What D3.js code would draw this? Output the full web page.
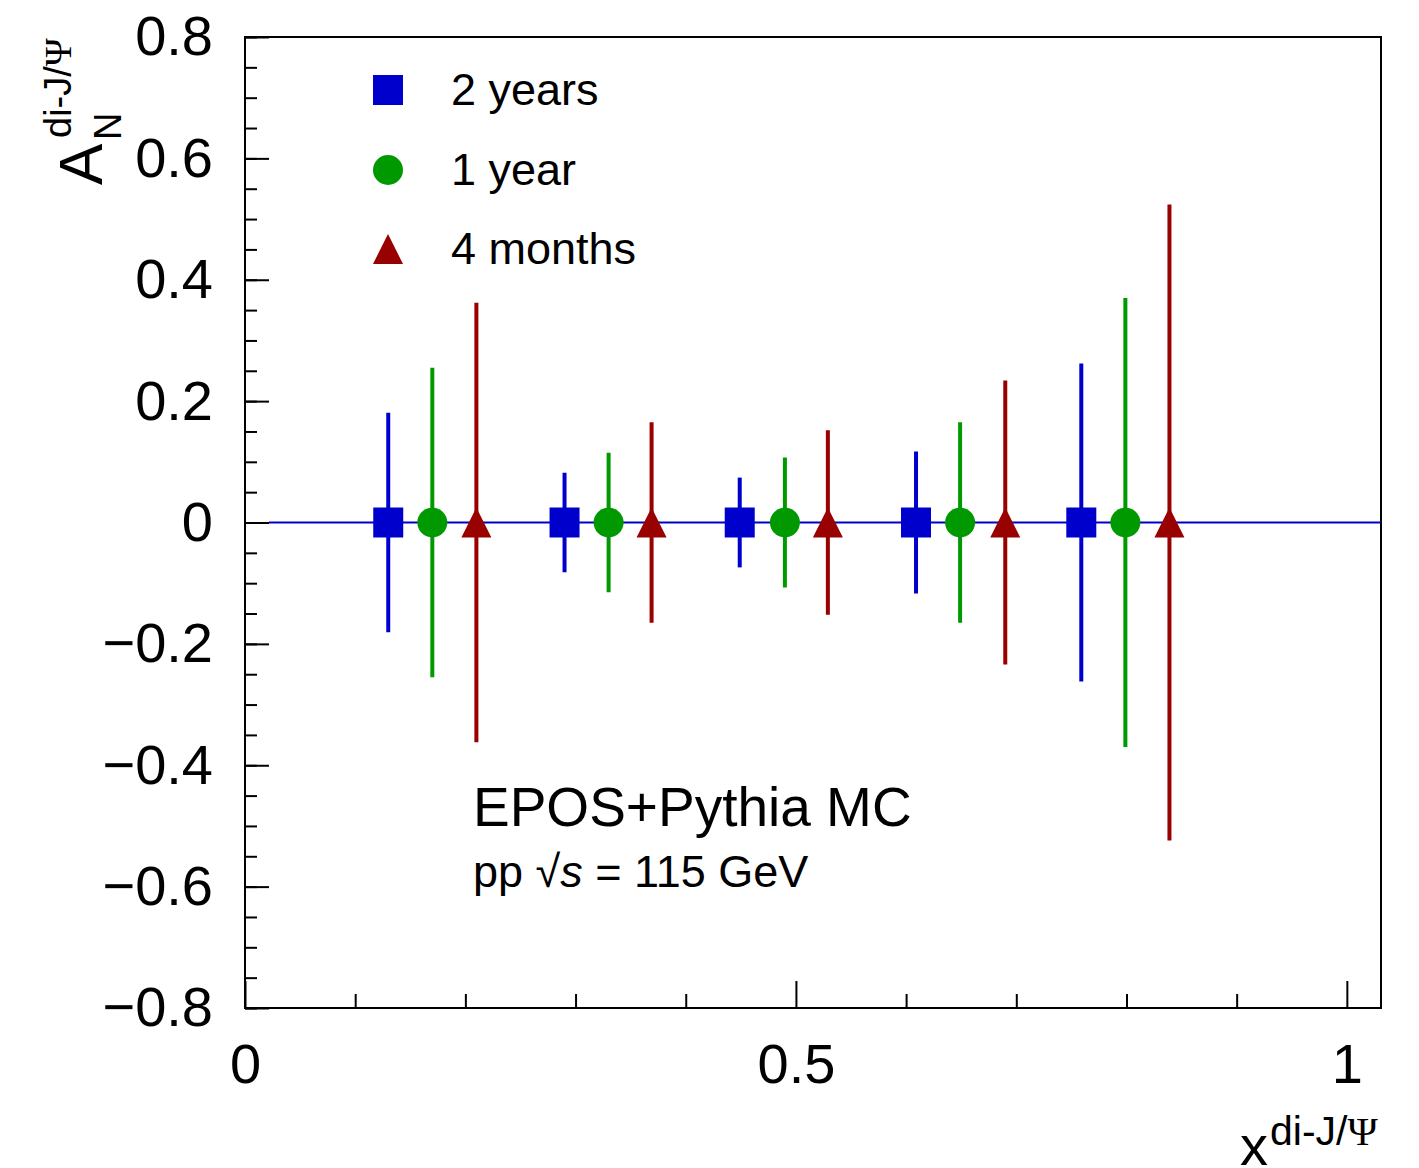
<!DOCTYPE html>
<html>
<head>
<meta charset="utf-8">
<script src="https://cdn.jsdelivr.net/npm/d3@7"></script>
<style>
  body { margin: 0; background: #fff; }
  svg { display: block; font-family: "Liberation Sans", Arial, Helvetica, sans-serif; }
</style>
</head>
<body>
<svg id="chart" width="1419" height="1168"></svg>
<script>
// data
var series = ['2 years', '1 year', '4 months'];
var colors = ['#0000cc', '#009900', '#990000'];
var shapes = ['square', 'circle', 'triangle'];

var xTwoYears = [0.130, 0.290, 0.449, 0.609, 0.759];
var xOneYear = [0.170, 0.330, 0.490, 0.649, 0.799];
var xFourMonths = [0.210, 0.369, 0.529, 0.690, 0.839];

var yTwoYears = [0, 0, 0, 0, 0];
var yOneYear = [0, 0, 0, 0, 0];
var yFourMonths = [0, 0, 0, 0, 0];

var errTwoYears = [0.181, 0.082, 0.074, 0.117, 0.262];
var errOneYear = [0.255, 0.115, 0.107, 0.165, 0.370];
var errFourMonths = [0.362, 0.165, 0.152, 0.234, 0.524];

var yMajor = [-0.8, -0.6, -0.4, -0.2, 0, 0.2, 0.4, 0.6, 0.8];
var yMinor = d3.range(-0.8, 0.8001, 0.05).map(v => +v.toFixed(2));
var xMajor = [0, 0.5, 1];
var xMinor = [0.1, 0.2, 0.3, 0.4, 0.6, 0.7, 0.8, 0.9];

var svg = d3.select('#chart');
var padLeft = 245, padRight = 1381, padTop = 37, padBottom = 1008;

var x = d3.scaleLinear().domain([0, 1.031]).range([padLeft, padRight]);
var y = d3.scaleLinear().domain([-0.8, 0.8]).range([padBottom, padTop]);

// axes: ticks point into the frame
function styleAxis(g) {
  g.select('.domain').remove();
  g.selectAll('.tick line').attr('stroke', '#000').attr('stroke-width', 2);
}

svg.append('g')
  .attr('transform', `translate(${padLeft},0)`)
  .call(d3.axisLeft(y).tickValues(yMinor).tickSize(-12).tickFormat(''))
  .call(styleAxis);

svg.append('g')
  .attr('transform', `translate(${padLeft},0)`)
  .call(d3.axisLeft(y).tickValues(yMajor).tickSize(-24).tickPadding(32)
    .tickFormat(d => d === 0 ? '0' : d3.format('.1f')(d)))
  .call(styleAxis)
  .selectAll('text')
  .attr('font-size', 56).attr('fill', '#000')
  .attr('font-family', '"Liberation Sans", Arial, sans-serif');

svg.append('g')
  .attr('transform', `translate(0,${padBottom})`)
  .call(d3.axisBottom(x).tickValues(xMinor).tickSize(-14).tickFormat(''))
  .call(styleAxis);

svg.append('g')
  .attr('transform', `translate(0,${padBottom})`)
  .call(d3.axisBottom(x).tickValues(xMajor).tickSize(-27).tickPadding(35)
    .tickFormat(d3.format('~g')))
  .call(styleAxis)
  .selectAll('text')
  .attr('font-size', 56).attr('fill', '#000')
  .attr('font-family', '"Liberation Sans", Arial, sans-serif');

// frame
svg.append('rect')
  .attr('x', padLeft).attr('y', padTop)
  .attr('width', padRight - padLeft).attr('height', padBottom - padTop)
  .attr('fill', 'none').attr('stroke', '#000').attr('stroke-width', 2);

// zero line
svg.append('line')
  .attr('x1', x(0) + 24).attr('x2', padRight)
  .attr('y1', y(0)).attr('y2', y(0))
  .attr('stroke', colors[0]).attr('stroke-width', 2);

var groups = [
  { xs: xTwoYears, ys: yTwoYears, errs: errTwoYears },
  { xs: xOneYear, ys: yOneYear, errs: errOneYear },
  { xs: xFourMonths, ys: yFourMonths, errs: errFourMonths }
];

// ROOT-like upward triangle, about as tall as it is wide
var rootTriangle = {
  draw: function (ctx, size) {
    var h = Math.sqrt(size);
    ctx.moveTo(0, -h / 2);
    ctx.lineTo(h / 2, h / 2);
    ctx.lineTo(-h / 2, h / 2);
    ctx.closePath();
  }
};

var symbolFor = {
  square: d3.symbol().type(d3.symbolSquare).size(900),
  circle: d3.symbol().type(d3.symbolCircle).size(Math.PI * 15 * 15),
  triangle: d3.symbol().type(rootTriangle).size(900)
};

groups.forEach(function (grp, i) {
  var pts = grp.xs.map((v, k) => ({ x: v, y: grp.ys[k], e: grp.errs[k] }));
  var g = svg.append('g');
  g.selectAll('line.err').data(pts).enter().append('line').classed('err', true)
    .attr('x1', d => x(d.x)).attr('x2', d => x(d.x))
    .attr('y1', d => y(d.y + d.e)).attr('y2', d => y(d.y - d.e))
    .attr('stroke', colors[i]).attr('stroke-width', 4);
  g.selectAll('path.mark').data(pts).enter().append('path').classed('mark', true)
    .attr('d', symbolFor[shapes[i]])
    .attr('transform', d => `translate(${x(d.x)},${y(d.y)})`)
    .attr('fill', colors[i]);
});

// legend
var legendY = [90, 170, 249];
var legend = svg.append('g');
series.forEach(function (name, i) {
  legend.append('path')
    .attr('d', symbolFor[shapes[i]])
    .attr('transform', `translate(388,${legendY[i]})`)
    .attr('fill', colors[i]);
  legend.append('text')
    .attr('x', 451).attr('y', legendY[i] + 15)
    .attr('font-size', 45).attr('fill', '#000')
    .text(name);
});

// annotations
svg.append('text')
  .attr('x', 473).attr('y', 826)
  .attr('font-size', 55).attr('fill', '#000')
  .text('EPOS+Pythia MC');

var sqrtText = svg.append('text')
  .attr('x', 473).attr('y', 887)
  .attr('font-size', 45).attr('fill', '#000');
sqrtText.append('tspan').text('pp  \u221A');
sqrtText.append('tspan').attr('font-style', 'italic').text('s');
sqrtText.append('tspan').text(' = 115 GeV');

// y title: A_N^{di-J/Psi}, rotated
var yt = svg.append('g').attr('transform', 'translate(102,185) rotate(-90)');
yt.append('text').attr('x', 0).attr('y', 0).attr('font-size', 62).attr('fill', '#000').text('A');
yt.append('text').attr('x', 45).attr('y', 19).attr('font-size', 38).attr('fill', '#000').text('N');
var ysup = yt.append('text').attr('x', 47).attr('y', -31).attr('font-size', 38).attr('fill', '#000');
ysup.append('tspan').text('di-J/');
ysup.append('tspan').attr('font-family', '"Liberation Serif", "DejaVu Serif", serif').text('\u03A8');

// x title
svg.append('text').attr('x', 1240).attr('y', 1165).attr('font-size', 56).attr('fill', '#000').text('x');
var xsup = svg.append('text').attr('x', 1270).attr('y', 1145).attr('font-size', 41).attr('fill', '#000');
xsup.append('tspan').text('di-J/');
xsup.append('tspan').attr('font-family', '"Liberation Serif", "DejaVu Serif", serif').text('\u03A8');
</script>
</body>
</html>
